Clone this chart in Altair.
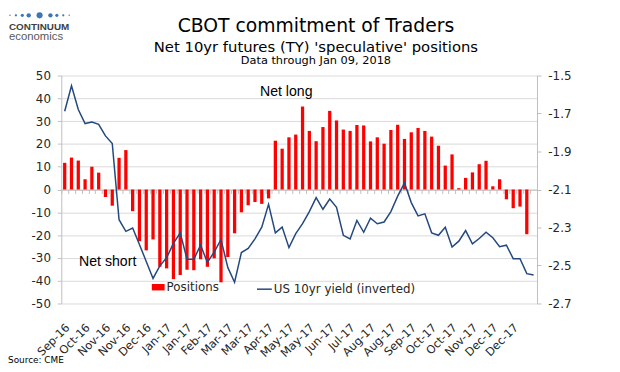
import json
import altair as alt
import pandas as pd

# Weekly net speculative positions (thousand contracts), Sep-2016 .. Jan-2018
positions = [11.7, 14.0, 12.7, 4.5, 10.0, 7.4, -3.3, -7.1, 13.9, 17.3,
             -9.5, -22.7, -26.7, -21.9, -33.9, -34.6, -39.3, -37.5, -35.2, -35.4,
             -30.6, -33.9, -30.2, -40.7, -29.6, -19.2, -10.0, -6.9, -5.5, -6.3,
             -3.9, 21.4, 17.9, 22.9, 24.1, 36.4, 25.7, 21.2, 27.4, 34.5,
             30.3, 26.3, 25.7, 28.3, 28.1, 21.1, 22.9, 20.1, 26.1, 28.4,
             22.2, 25.1, 27.0, 25.7, 23.2, 19.2, 10.5, 15.4, 0.6, 5.1,
             7.5, 11.1, 12.6, 1.4, 4.5, -4.3, -8.2, -7.5, -19.6, None]

# US 10yr yield, inverted (right axis)
yield_inv = [-1.688, -1.554, -1.679, -1.753, -1.745, -1.757, -1.818, -1.858, -2.259, -2.320,
             -2.303, -2.389, -2.479, -2.568, -2.502, -2.459, -2.384, -2.328, -2.467, -2.467,
             -2.393, -2.484, -2.429, -2.363, -2.510, -2.588, -2.432, -2.410, -2.360, -2.298,
             -2.178, -2.328, -2.298, -2.406, -2.332, -2.280, -2.216, -2.143, -2.204, -2.150,
             -2.194, -2.341, -2.360, -2.263, -2.325, -2.251, -2.280, -2.271, -2.216, -2.135,
             -2.065, -2.169, -2.239, -2.228, -2.328, -2.341, -2.299, -2.403, -2.372, -2.316,
             -2.386, -2.358, -2.325, -2.354, -2.401, -2.393, -2.464, -2.464, -2.543, -2.550]

# x tick labels, one every third week
tick_labels = ["Sep-16", "Oct-16", "Nov-16", "Nov-16", "Dec-16", "Jan-17", "Jan-17",
               "Feb-17", "Mar-17", "Mar-17", "Apr-17", "May-17", "May-17", "Jun-17",
               "Jul-17", "Aug-17", "Aug-17", "Sep-17", "Oct-17", "Oct-17", "Nov-17",
               "Dec-17", "Dec-17"]

left_ticks = [-50, -40, -30, -20, -10, 0, 10, 20, 30, 40, 50]
right_ticks = [-1.5, -1.7, -1.9, -2.1, -2.3, -2.5, -2.7]

series_names = ["Positions", "US 10yr yield (inverted)"]

df = pd.DataFrame({
    "week": list(range(len(yield_inv))),
    "positions": positions,
    "yield": yield_inv,
})
df["pos_name"] = series_names[0]
df["yld_name"] = series_names[1]

FONT = "DejaVu Sans"
AX = "#BFBFBF"
LBL = "#262626"

label_expr = "datum.value % 3 == 0 ? " + json.dumps(tick_labels) + "[datum.value / 3] : ''"

x_enc = alt.X(
    "week:O",
    title=None,
    scale=alt.Scale(paddingInner=0, paddingOuter=0),
    axis=alt.Axis(
        orient="bottom", offset=-115.5, domain=True, domainColor=AX,
        ticks=True, tickBand="extent", tickSize=4, tickColor=AX,
        labelAngle=-45, labelAlign="right", labelBaseline="middle",
        labelPadding=134, labelOffset=3, labelExpr=label_expr, labelOverlap=False,
        labelFont=FONT, labelFontSize=11.5, labelColor=LBL, grid=False,
    ),
)

bars = alt.Chart(df).mark_bar(size=3.3).encode(
    x=x_enc,
    y=alt.Y(
        "positions:Q", title=None,
        scale=alt.Scale(domain=[-50, 50], nice=False, zero=False),
        axis=alt.Axis(
            orient="left", values=left_ticks, labelExpr="'' + datum.value",
            labelOverlap=False, labelBound=False,
            grid=True, gridColor="#D9D9D9", domainColor=AX, tickColor=AX,
            tickSize=4, labelPadding=7, labelFont=FONT, labelFontSize=12,
            labelColor=LBL,
        ),
    ),
    color=alt.Color(
        "pos_name:N",
        scale=alt.Scale(domain=[series_names[0]], range=["#FF0000"]),
        legend=alt.Legend(
            title=None, orient="none", legendX=91.7, legendY=208, padding=0,
            symbolType="M-1,-0.5H1V0.5H-1Z", symbolSize=169, symbolStrokeWidth=0,
            labelFont=FONT, labelFontSize=12, labelColor=LBL, labelOffset=2,
        ),
    ),
)

line = alt.Chart(df).mark_line(strokeWidth=1.5).encode(
    x=x_enc,
    y=alt.Y(
        "yield:Q", title=None,
        scale=alt.Scale(domain=[-2.7, -1.5], nice=False, zero=False),
        axis=alt.Axis(
            orient="right", values=right_ticks, labelExpr="'' + datum.value",
            labelOverlap=False, grid=False, domainColor=AX, tickColor=AX, tickSize=4,
            labelPadding=7, labelFont=FONT, labelFontSize=12, labelColor=LBL,
        ),
    ),
    stroke=alt.Stroke(
        "yld_name:N",
        scale=alt.Scale(domain=[series_names[1]], range=["#24487E"]),
        legend=alt.Legend(
            title=None, orient="none", legendX=197.3, legendY=208, padding=0,
            symbolType="stroke", symbolSize=225, symbolStrokeWidth=1.5,
            labelFont=FONT, labelFontSize=12, labelColor=LBL, labelOffset=1,
        ),
    ),
)


def txt(s, x, y, size, font=FONT, color="#000000", align="center", weight="normal"):
    return alt.Chart(pd.DataFrame({"t": [s]})).mark_text(
        font=font, fontSize=size, align=align, baseline="alphabetic",
        color=color, fontWeight=weight,
    ).encode(x=alt.value(x), y=alt.value(y), text="t:N")


texts = [
    txt("CBOT commitment of Traders", 258, -44.3, 19),
    txt("Net 10yr futures (TY) 'speculative' positions", 258, -24.3, 15),
    txt("Data through Jan 09, 2018", 258, -11.3, 11.5),
    txt("Net long", 201.3, 20.7, 14.3, font="Liberation Sans", align="left"),
    txt("Net short", 18, 193, 14.3, font="Liberation Sans", align="left"),
    txt("Source: CME", -54, 291.5, 9, color="#000000", align="left"),
    txt("CONTINUUM", -53, -46.3, 10, font="Liberation Sans", color="#3F3F3F",
        align="left", weight="bold"),
    txt("economics", -53, -35.5, 11.5, font="Liberation Sans", color="#595959",
        align="left"),
]

# logo dots (decoration)
dot_specs = [(-30, 1.6), (-24, 2.6), (-17.5, 3.6), (-11, 5.0), (0, 7.0),
             (11, 5.0), (17.5, 3.6), (24, 2.6), (30, 1.6)]
dots = []
for dx, d in dot_specs:
    dots.append(
        alt.Chart(pd.DataFrame({"t": [0]})).mark_circle(
            color="#3C78B4", opacity=1, size=3.1416 * d * d / 4
        ).encode(x=alt.value(-22 + dx), y=alt.value(-61))
    )

chart = alt.layer(bars, line, *texts, *dots).resolve_scale(
    y="independent"
).properties(
    width=482,
    height=231,
    autosize=alt.AutoSizeParams(type="none"),
    padding={"left": 54, "top": 66, "right": 76, "bottom": 67},
    background="white",
).configure_view(strokeWidth=0)

chart.save("out.html", embed_options={"renderer": "svg", "actions": False})
